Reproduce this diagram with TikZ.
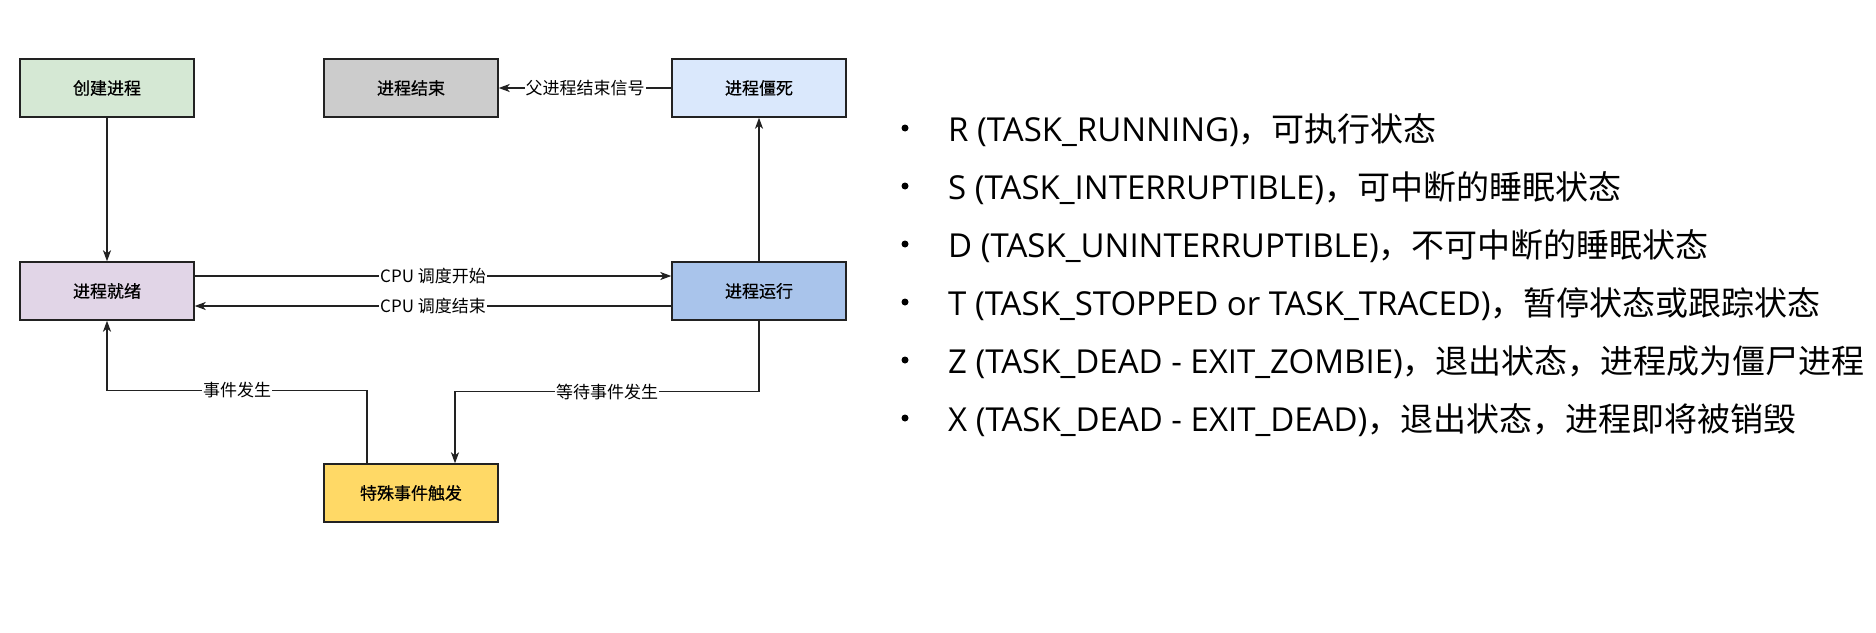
\documentclass[tikz,border=0pt]{standalone}
\usepackage{fontspec}
\setmainfont{Noto Sans CJK SC}
\newfontfamily\lat{Open Sans}
\newfontfamily\cjk{Noto Sans CJK SC}
\newfontfamily\cjkb[FakeBold=0.6]{Noto Sans CJK SC}
\usetikzlibrary{arrows.meta}
\definecolor{cGreen}{HTML}{D5E8D4}
\definecolor{cGray}{HTML}{CCCCCC}
\definecolor{cBlue}{HTML}{DAE8FC}
\definecolor{cPurple}{HTML}{E1D5E7}
\definecolor{cRun}{HTML}{A9C4EB}
\definecolor{cYellow}{HTML}{FFD966}
\definecolor{cLine}{HTML}{222222}
\tikzset{
  box/.style={draw=cLine, line width=1.4pt, minimum width=174pt, minimum height=58pt,
    inner sep=0pt, font=\fontsize{17}{20}\selectfont\cjkb},
  conn/.style={draw=cLine, line width=1.4pt, -{Stealth[length=11pt,width=8pt,inset=3pt]}},
  lbl/.style={fill=white, inner sep=1pt, font=\fontsize{17}{20}\selectfont},
  item/.style={anchor=base west, inner sep=0pt, font=\fontsize{33}{36}\selectfont\lat},
  dot/.style={circle, fill=black, inner sep=0pt, minimum size=7pt}
}
\begin{document}
\begin{tikzpicture}[x=1pt,y=-1pt]
\useasboundingbox[fill=white] (0,0) rectangle (1876,632);
% boxes
\node[box, fill=cGreen]  (create) at (107,88)  {创建进程};
\node[box, fill=cGray]   (finish) at (411,88)  {进程结束};
\node[box, fill=cBlue]   (zombie) at (759,88)  {进程僵死};
\node[box, fill=cPurple] (ready)  at (107,291) {进程就绪};
\node[box, fill=cRun]    (run)    at (759,291) {进程运行};
\node[box, fill=cYellow] (event)  at (411,493) {特殊事件触发};
% connectors
\draw[conn] (create) -- (ready);
\draw[conn] ([yshift=15pt]ready.east) -- node[lbl]{CPU 调度开始} ([yshift=15pt]run.west);
\draw[conn] ([yshift=-15pt]run.west) -- node[lbl]{CPU 调度结束} ([yshift=-15pt]ready.east);
\draw[conn] (run) -- (zombie);
\draw[conn] (zombie) -- node[lbl]{父进程结束信号} (finish);
\draw[conn] (run.south) -- ++(0,71) -| node[lbl,pos=0.25]{等待事件发生} ([xshift=44pt]event.north);
\draw[conn] ([xshift=-44pt]event.north) -- ++(0,-73) -| node[lbl,pos=0.25]{事件发生} (ready.south);
% list
\node[dot] (b1) at (905,128) {};
\node[dot] (b2) at (905,186) {};
\node[dot] (b3) at (905,244) {};
\node[dot] (b4) at (905,302) {};
\node[dot] (b5) at (905,360) {};
\node[dot] (b6) at (905,418) {};
\node[item] (t1) at (948,141) {R (TASK\_RUNNING){\cjk ，可执行状态}};
\node[item] (t2) at (948,199) {S (TASK\_INTERRUPTIBLE){\cjk ，可中断的睡眠状态}};
\node[item] (t3) at (948,257) {D (TASK\_UNINTERRUPTIBLE){\cjk ，不可中断的睡眠状态}};
\node[item] (t4) at (948,315) {T (TASK\_STOPPED or TASK\_TRACED){\cjk ，暂停状态或跟踪状态}};
\node[item] (t5) at (948,373) {Z (TASK\_DEAD - EXIT\_ZOMBIE){\cjk ，退出状态，进程成为僵尸进程}};
\node[item] (t6) at (948,431) {X (TASK\_DEAD - EXIT\_DEAD){\cjk ，退出状态，进程即将被销毁}};
\end{tikzpicture}
\end{document}
